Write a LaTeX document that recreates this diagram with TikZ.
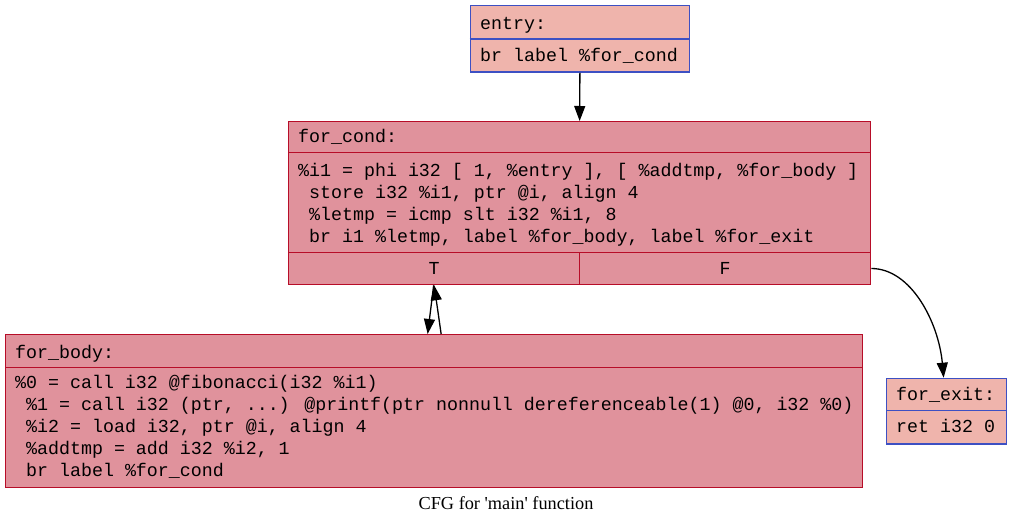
\documentclass[tikz,border=0pt]{standalone}
\usepackage{fontspec}
\newfontfamily\monofont{Liberation Mono}
\newfontfamily\capfont{Liberation Serif}[Ligatures=TeXOff]
\usetikzlibrary{arrows.meta}
\definecolor{warmfill}{RGB}{239,180,172}
\definecolor{warmdraw}{RGB}{61,80,195}
\definecolor{hotfill}{RGB}{224,146,156}
\definecolor{hotdraw}{RGB}{183,13,40}
\tikzset{
  warm/.style={draw=warmdraw, fill=warmfill, line width=1.3pt, rectangle, inner sep=0pt, anchor=north west},
  hot/.style={draw=hotdraw, fill=hotfill, line width=1.3pt, rectangle, inner sep=0pt, anchor=north west},
  warmline/.style={draw=warmdraw, line width=1.3pt},
  hotline/.style={draw=hotdraw, line width=1.3pt},
  txt/.style={anchor=base west, inner sep=0pt, font=\monofont\fontsize{18.3}{22}\selectfont},
  cell/.style={draw=hotdraw, line width=1.3pt, rectangle, inner sep=0pt, anchor=north west, minimum height=32.3pt, font=\monofont\fontsize{18.3}{22}\selectfont},
  edge/.style={draw=black, line width=1.3pt, -{Triangle[length=15pt,width=11pt]}},
}
\begin{document}
\begin{tikzpicture}[x=1pt,y=-1pt]
\useasboundingbox[fill=white] (0,0) rectangle (1013,526);
% entry
\node[warm, minimum width=219.5pt, minimum height=66.5pt] (entry) at (469.5,5) {};
\draw[warmline] (469.5,39) -- (689,39);
\node[txt] (entryt) at (480,29.5) {entry:};
\node[txt] (entryb) at (480,61.5) {br label \%for\_cond};
% for_cond
\node[hot, minimum width=582pt, minimum height=163pt] (forcond) at (288,121) {};
\draw[hotline] (288,152.7) -- (870,152.7);
\node[txt] (condt) at (298,143) {for\_cond:};
\node[txt] (cond1) at (298,177) {\%i1 = phi i32 [ 1, \%entry ], [ \%addtmp, \%for\_body ]};
\node[txt] (cond2) at (309,199) {store i32 \%i1, ptr @i, align 4};
\node[txt] (cond3) at (309,221) {\%letmp = icmp slt i32 \%i1, 8};
\node[txt] (cond4) at (309,243) {br i1 \%letmp, label \%for\_body, label \%for\_exit};
\node[cell, minimum width=291pt] (condT) at (288,251.7) {T};
\node[cell, minimum width=291pt] (condF) at (579,251.7) {F};
% for_body
\node[hot, minimum width=857pt, minimum height=152.7pt] (forbody) at (5,334) {};
\draw[hotline] (5,367.3) -- (862,367.3);
\node[txt] (bodyt) at (15,359) {for\_body:};
\node[txt] (body1) at (15,389) {\%0 = call i32 @fibonacci(i32 \%i1)};
\node[txt] (body2) at (26,411) {\%1 = call i32 (ptr, ...) @printf(ptr nonnull dereferenceable(1) @0, i32 \%0)};
\node[txt] (body3) at (26,433) {\%i2 = load i32, ptr @i, align 4};
\node[txt] (body4) at (26,455) {\%addtmp = add i32 \%i2, 1};
\node[txt] (body5) at (26,477) {br label \%for\_cond};
% for_exit
\node[warm, minimum width=120pt, minimum height=65.6pt] (forexit) at (886,377.7) {};
\draw[warmline] (886,410.3) -- (1006,410.3);
\node[txt] (exitt) at (896,401) {for\_exit:};
\node[txt] (exitb) at (896,432.5) {ret i32 0};
% edges
\draw[edge] (entry.south) -- (forcond.north);
\draw[edge] ([xshift=-0.5pt]condT.south) -- ([xshift=-6.5pt]forbody.north);
\draw[edge] ([xshift=7pt]forbody.north) -- ([xshift=0pt]condT.south);
\draw[edge] (condF.east) .. controls +(40,0) and +(-5,-55) .. ([xshift=-3pt]forexit.north);
% caption
\node[anchor=base, inner sep=0pt, font=\capfont\fontsize{18.3}{22}\selectfont] (caption) at (506,510) {CFG for 'main' function};
\end{tikzpicture}
\end{document}
